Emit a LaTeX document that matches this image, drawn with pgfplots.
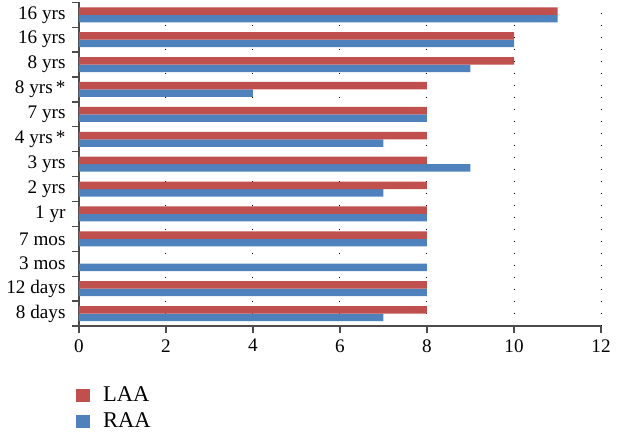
\documentclass[border=0pt]{standalone}
\usepackage{fontspec}
\setmainfont{Liberation Serif}
\usepackage{pgfplots}
\pgfplotsset{compat=1.18}
\definecolor{laa}{HTML}{C0504D}
\definecolor{raa}{HTML}{4F81BD}
\begin{document}
\fontsize{11.5}{14}\selectfont
\begin{tikzpicture}
\begin{axis}[
  scale only axis,
  width=313pt, height=194pt,
  xbar=0pt, bar width=4.5pt,
  xmin=0, xmax=12, ymin=-0.5, ymax=12.5,
  axis x line*=bottom, axis y line*=left,
  axis line style={black!70, line width=0.8pt},
  xtick={0,2,...,12},
  ytick={0,...,12},
  yticklabels={8 days,12 days,3 mos,7 mos,1 yr,2 yrs,3 yrs,4 yrs\,*,7 yrs,8 yrs\,*,8 yrs,16 yrs,16 yrs},
  minor ytick={-0.5,0.5,...,12.5},
  major y tick style={draw=none},
  minor tick length=4pt,
  major tick length=4pt,
  every tick/.style={black!70, line width=0.8pt},
  tick align=outside,
  xmajorgrids,
  major grid style={black, line width=0.6pt, dash pattern=on 0.6pt off 6.6pt},
  /pgf/number format/assume math mode=true,
  tick label style={font=\fontsize{11.5}{14}\selectfont},
  legend style={draw=none, at={(-0.015,-0.165)}, anchor=north west,
    font=\fontsize{13.5}{15}\selectfont, row sep=1pt, cells={anchor=west}},
  legend cell align=left,
  reverse legend,
  legend image code/.code={\fill[#1] (0pt,-4pt) rectangle (8pt,4pt); \path (14pt,0pt);},
]
\addplot[fill=raa, draw=none] coordinates {
 (7,0) (8,1) (8,2) (8,3) (8,4) (7,5) (9,6) (7,7) (8,8) (4,9) (9,10) (10,11) (11,12)};
\addplot[fill=laa, draw=none] coordinates {
 (8,0) (8,1) (0,2) (8,3) (8,4) (8,5) (8,6) (8,7) (8,8) (8,9) (10,10) (10,11) (11,12)};
\legend{RAA,LAA}
\end{axis}
\end{tikzpicture}
\end{document}
